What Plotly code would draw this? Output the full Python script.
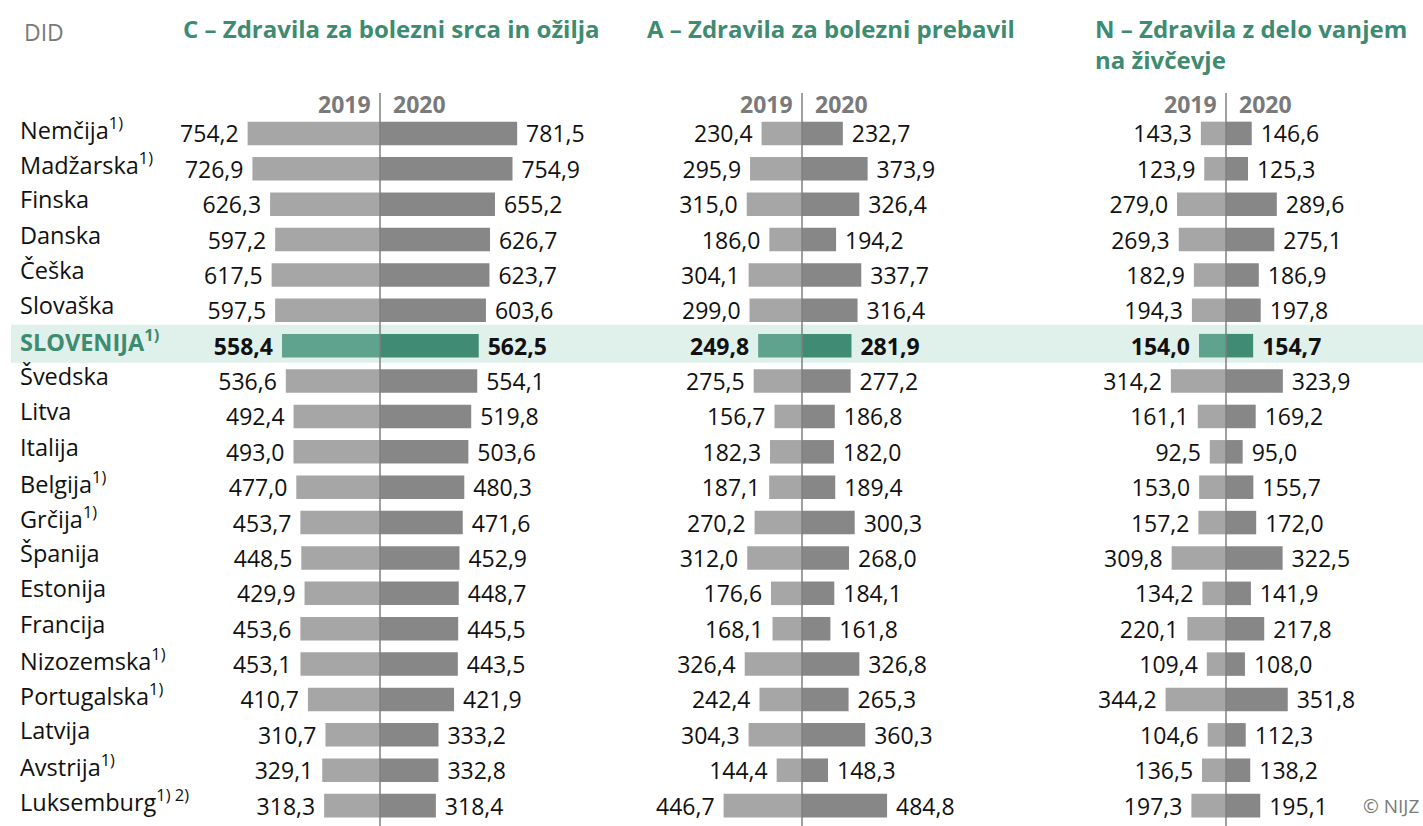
import plotly.graph_objects as go

countries = ["Nemčija<sup>1)</sup>", "Madžarska<sup>1)</sup>", "Finska", "Danska", "Češka", "Slovaška",
             "SLOVENIJA<sup>1)</sup>", "Švedska", "Litva", "Italija", "Belgija<sup>1)</sup>", "Grčija<sup>1)</sup>",
             "Španija", "Estonija", "Francija", "Nizozemska<sup>1)</sup>", "Portugalska<sup>1)</sup>", "Latvija",
             "Avstrija<sup>1)</sup>", "Luksemburg<sup>1) 2)</sup>"]

c_2019 = [754.2, 726.9, 626.3, 597.2, 617.5, 597.5, 558.4, 536.6, 492.4, 493.0,
          477.0, 453.7, 448.5, 429.9, 453.6, 453.1, 410.7, 310.7, 329.1, 318.3]
c_2020 = [781.5, 754.9, 655.2, 626.7, 623.7, 603.6, 562.5, 554.1, 519.8, 503.6,
          480.3, 471.6, 452.9, 448.7, 445.5, 443.5, 421.9, 333.2, 332.8, 318.4]
a_2019 = [230.4, 295.9, 315.0, 186.0, 304.1, 299.0, 249.8, 275.5, 156.7, 182.3,
          187.1, 270.2, 312.0, 176.6, 168.1, 326.4, 242.4, 304.3, 144.4, 446.7]
a_2020 = [232.7, 373.9, 326.4, 194.2, 337.7, 316.4, 281.9, 277.2, 186.8, 182.0,
          189.4, 300.3, 268.0, 184.1, 161.8, 326.8, 265.3, 360.3, 148.3, 484.8]
n_2019 = [143.3, 123.9, 279.0, 269.3, 182.9, 194.3, 154.0, 314.2, 161.1, 92.5,
          153.0, 157.2, 309.8, 134.2, 220.1, 109.4, 344.2, 104.6, 136.5, 197.3]
n_2020 = [146.6, 125.3, 289.6, 275.1, 186.9, 197.8, 154.7, 323.9, 169.2, 95.0,
          155.7, 172.0, 322.5, 141.9, 217.8, 108.0, 351.8, 112.3, 138.2, 195.1]

titles = ["C – Zdravila za bolezni srca in ožilja",
          "A – Zdravila za bolezni prebavil",
          "N – Zdravila z delo vanjem<br>na živčevje"]
years = ["2019", "2020"]
highlight = "SLOVENIJA<sup>1)</sup>"

# ---- layout geometry (pixels) ----
W, H = 1423, 826
FONT = "Open Sans"
GREEN = "#3d8b70"
GRAY_TXT = "#7a7a7a"
s = 0.1755                    # px per unit
centers = [380, 802, 1226]
edges = [(0, 590), (590, 1015), (1015, W)]
row0, rowstep = 133.4, 35.38

def px_to_row(py):
    return (py - row0) / rowstep

hi = countries.index(highlight)
n = len(countries)
ys = list(range(n))

def fmt(v, i):
    t = f"{v:.1f}".replace(".", ",")
    return f"<b>{t}</b>" if i == hi else t

fig = go.Figure()
panels = [(c_2019, c_2020), (a_2019, a_2020), (n_2019, n_2020)]
for k, (v19, v20) in enumerate(panels):
    xa = "x" if k == 0 else f"x{k+1}"
    col19 = ["#5fa28e" if i == hi else "#a6a6a6" for i in ys]
    col20 = ["#3f8b73" if i == hi else "#878787" for i in ys]
    fig.add_trace(go.Bar(
        y=ys, x=[-v for v in v19], orientation="h", xaxis=xa, yaxis="y",
        marker=dict(color=col19, line=dict(width=0)), width=0.665,
        text=[fmt(v, i) + "\u00a0" for i, v in enumerate(v19)],
        textposition="outside", constraintext="none", cliponaxis=False,
        textfont=dict(family=FONT, size=23, color="#111111"), showlegend=False,
        hoverinfo="skip"))
    fig.add_trace(go.Bar(
        y=ys, x=v20, orientation="h", xaxis=xa, yaxis="y",
        marker=dict(color=col20, line=dict(width=0)), width=0.665,
        text=["\u00a0" + fmt(v, i) for i, v in enumerate(v20)],
        textposition="outside", constraintext="none", cliponaxis=False,
        textfont=dict(family=FONT, size=23, color="#111111"), showlegend=False,
        hoverinfo="skip"))

layout = dict(
    width=W, height=H, margin=dict(l=0, r=0, t=0, b=0),
    paper_bgcolor="white", plot_bgcolor="rgba(0,0,0,0)",
    barmode="overlay", separators=",.",
    font=dict(family=FONT, size=23, color="#111111"),
    yaxis=dict(range=[px_to_row(H), px_to_row(0)], visible=False, domain=[0, 1]),
)
for k in range(3):
    L, R = edges[k]
    c = centers[k]
    key = "xaxis" if k == 0 else f"xaxis{k+1}"
    layout[key] = dict(domain=[L / W, R / W], range=[(L - c) / s, (R - c) / s],
                       visible=False, anchor="y", fixedrange=True)
fig.update_layout(**layout)

shapes = [dict(type="rect", xref="paper", yref="y", x0=11 / W, x1=1,
               y0=hi - 0.59, y1=hi + 0.48, fillcolor="#e0f0ea", line=dict(width=0), layer="below")]
for k in range(3):
    xr = "x" if k == 0 else f"x{k+1}"
    shapes.append(dict(type="line", xref=xr, yref="y", x0=0, x1=0,
                       y0=px_to_row(93), y1=px_to_row(H + 5),
                       line=dict(color="#7f7f7f", width=1.5), layer="above"))
fig.update_layout(shapes=shapes)

ann = []
# country labels
for i, name in enumerate(countries):
    if i == hi:
        txt = f"<b>{name}</b>"
        color = GREEN
    else:
        txt = name
        color = "#111111"
    ann.append(dict(text=txt, xref="paper", yref="y", x=18 / W, y=i, yshift=5,
                    xanchor="left", yanchor="middle", showarrow=False,
                    font=dict(family=FONT, size=23.5, color=color)))
# year headers and panel titles
title_x = [181, 645, 1093]
for k in range(3):
    xr = "x" if k == 0 else f"x{k+1}"
    ann.append(dict(text=f"<b>{years[0]}</b>", xref=xr, yref="y", x=0, y=px_to_row(104),
                    xanchor="right", yanchor="middle", xshift=-7, showarrow=False,
                    font=dict(family=FONT, size=23, color=GRAY_TXT)))
    ann.append(dict(text=f"<b>{years[1]}</b>", xref=xr, yref="y", x=0, y=px_to_row(104),
                    xanchor="left", yanchor="middle", xshift=11, showarrow=False,
                    font=dict(family=FONT, size=23, color=GRAY_TXT)))
    ann.append(dict(text=f"<b>{titles[k]}</b>", xref="paper", yref="paper",
                    x=title_x[k] / W, y=1 - 10 / H, xanchor="left", yanchor="top",
                    align="left", showarrow=False,
                    font=dict(family=FONT, size=24, color=GREEN)))
ann.append(dict(text="DID", xref="paper", yref="paper", x=22 / W, y=1 - 32 / H,
                xanchor="left", yanchor="middle", showarrow=False,
                font=dict(family=FONT, size=23, color=GRAY_TXT)))
ann.append(dict(text="© NIJZ", xref="paper", yref="y", x=1421 / W, y=n - 1,
                xanchor="right", yanchor="middle", showarrow=False,
                font=dict(family=FONT, size=19, color=GRAY_TXT)))
fig.update_layout(annotations=ann)

fig.write_html("out.html", config={"displayModeBar": False, "staticPlot": True},
               post_script="document.body.style.margin='0';document.body.style.overflow='hidden';")
